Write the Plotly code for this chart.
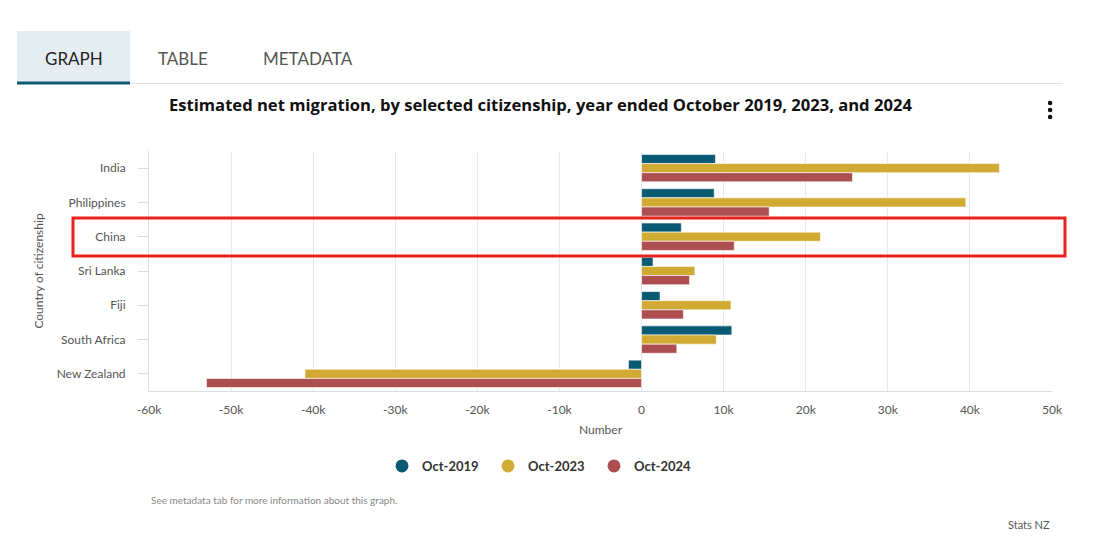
import plotly.graph_objects as go

countries = ["India", "Philippines", "China", "Sri Lanka", "Fiji", "South Africa", "New Zealand"]
oct2019 = [9000, 8850, 4850, 1400, 2250, 11000, -1600]
oct2023 = [43600, 39500, 21800, 6500, 10900, 9100, -41000]
oct2024 = [25700, 15550, 11300, 5850, 5100, 4300, -53000]
series_names = ["Oct-2019", "Oct-2023", "Oct-2024"]
colors = ["#0b5a73", "#d1aa33", "#ad4f50"]
x_ticks = [-60000, -50000, -40000, -30000, -20000, -10000, 0, 10000, 20000, 30000, 40000, 50000]
x_labels = ["-60k", "-50k", "-40k", "-30k", "-20k", "-10k", "0", "10k", "20k", "30k", "40k", "50k"]

OFF = 8  # page body margin
W, H = 1104 - OFF, 545 - OFF
PL, PR, PT, PB = 149, 1052, 151, 391  # plot area in screen px
L = PL - OFF
R = W - (PR - OFF)
T = PT - OFF
B = H - (PB - OFF)

def px_x(p):
    return (p - PL) / (PR - PL)
def px_y(p):
    return (PB - p) / (PB - PT)

fig = go.Figure()
for name, vals, col in zip(series_names, [oct2019, oct2023, oct2024], colors):
    fig.add_trace(go.Bar(
        y=countries, x=vals, name=name, orientation="h",
        marker=dict(color=col, line=dict(color="rgba(255,255,255,0.6)", width=1)),
        showlegend=False,
    ))
for name, col in zip(series_names, colors):
    fig.add_trace(go.Scatter(
        x=[None], y=[None], mode="markers", name=name,
        marker=dict(color=col, size=13, symbol="circle"),
        showlegend=True,
    ))

shapes = [
    dict(type="rect", xref="paper", yref="paper", x0=px_x(17), x1=px_x(130),
         y0=px_y(83), y1=px_y(31), fillcolor="#e4eef2", line=dict(width=0), layer="below"),
    dict(type="line", xref="paper", yref="paper", x0=px_x(17), x1=px_x(1063),
         y0=px_y(83.5), y1=px_y(83.5), line=dict(color="#e2e2e2", width=1)),
    dict(type="line", xref="paper", yref="paper", x0=px_x(17), x1=px_x(130),
         y0=px_y(83), y1=px_y(83), line=dict(color="#0e5a73", width=3)),
    dict(type="rect", xref="paper", yref="paper", x0=px_x(73), x1=px_x(1065),
         y0=px_y(256), y1=px_y(218), fillcolor="rgba(0,0,0,0)",
         line=dict(color="#e8231f", width=3)),
]
for yy in [103, 110, 117]:
    shapes.append(dict(type="circle", xref="paper", yref="paper",
                       x0=px_x(1047.8), x1=px_x(1052.4), y0=px_y(yy + 2.3), y1=px_y(yy - 2.3),
                       fillcolor="#111", line=dict(width=0)))

font_main = "Lato, 'Open Sans', Arial, sans-serif"
def ann(text, x, y, size, color, anchor="center", family=font_main):
    return dict(text=text, x=px_x(x), y=px_y(y), xref="paper", yref="paper", showarrow=False,
                font=dict(size=size, color=color, family=family), xanchor=anchor, yanchor="middle")

annotations = [
    ann("GRAPH", 74, 58, 17, "#222"),
    ann("TABLE", 183, 58, 17, "#555"),
    ann("METADATA", 308, 58, 17, "#555"),
    ann("<b>Estimated net migration, by selected citizenship, year ended October 2019, 2023, and 2024</b>",
        540, 104, 16.6, "#111", family="'Open Sans', Lato, sans-serif"),
    ann("See metadata tab for more information about this graph.", 149, 500, 10, "#888", anchor="left"),
    ann("Stats NZ", 1052, 524, 11, "#555", anchor="right"),
]

fig.update_layout(
    width=W, height=H,
    margin=dict(l=L, r=R, t=T, b=B, pad=0, autoexpand=False),
    paper_bgcolor="white", plot_bgcolor="white",
    barmode="group", bargap=0.2, bargroupgap=0,
    font=dict(family=font_main, color="#555", size=12),
    shapes=shapes, annotations=annotations,
    legend=dict(orientation="h", x=px_x(541), xanchor="center", y=px_y(466), yref="paper",
                yanchor="middle", font=dict(size=13, color="#333", weight=700, family=font_main),
                itemwidth=30, tracegroupgap=0, entrywidth=61, entrywidthmode="pixels"),
    xaxis=dict(range=[-60000, 50000], tickvals=x_ticks, ticktext=x_labels,
               showgrid=True, gridcolor="#e6e8ec", gridwidth=1, zeroline=False,
               showline=True, linecolor="#d8dee8", linewidth=1,
               ticks="", ticklabelstandoff=8, tickfont=dict(size=12, color="#555"),
               title=dict(text="Number", font=dict(size=12, color="#555"), standoff=9)),
    yaxis=dict(autorange="reversed", showgrid=False, zeroline=False,
               showline=True, linecolor="#d8dee8", linewidth=1,
               ticks="outside", ticklen=10, tickcolor="#d8dee8", ticklabelstandoff=10,
               tickfont=dict(size=12, color="#555"),
               title=dict(text="Country of citizenship", font=dict(size=12, color="#555"), standoff=10)),
)

fig.write_html("out.html")
